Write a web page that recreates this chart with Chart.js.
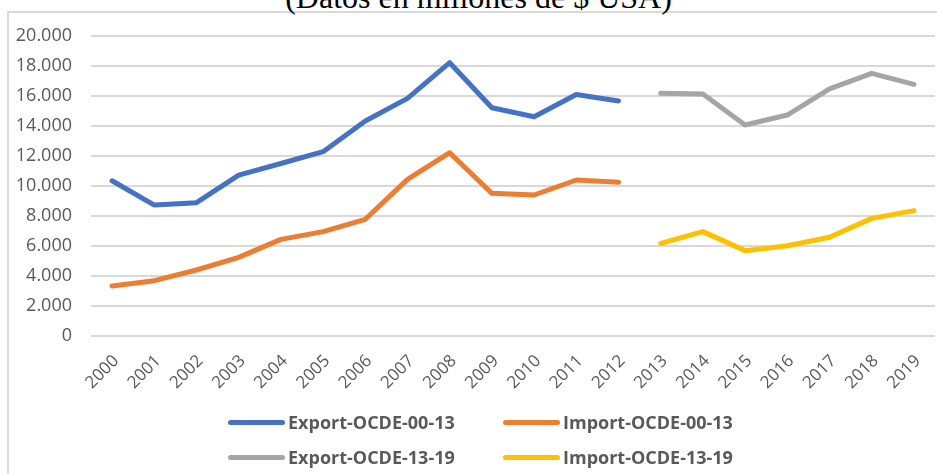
<!DOCTYPE html>
<html lang="es">
<head>
<meta charset="utf-8">
<script src="https://cdn.jsdelivr.net/npm/chart.js@4/dist/chart.umd.min.js"></script>
<style>
  html, body { margin: 0; padding: 0; background: #fff; overflow: hidden; }
  #wrap { position: relative; width: 937px; height: 474px; overflow: hidden; }
  /* marco gris del área del gráfico (sólo se ven los bordes izquierdo y superior) */
  #marco { position: absolute; left: 7px; top: 11px; width: 960px; height: 500px;
           border-left: 2px solid #d9d9d9; border-top: 2px solid #d9d9d9; }
  #titulo { position: absolute; left: 0; top: -19px; width: 957px; text-align: center;
            font: 32px/32px 'Liberation Serif', 'Times New Roman', serif; color: #000; white-space: nowrap; }
  #grafico { position: absolute; left: 0; top: 0; }
  .item { position: absolute; display: flex; align-items: center; height: 24px; margin-top: -12px;
          font: bold 18px 'Open Sans', sans-serif; color: #595959; white-space: nowrap; }
  .item .linea { display: inline-block; width: 57px; height: 5px; border-radius: 3px; margin-right: 3px; }
</style>
</head>
<body>
<div id="wrap">
  <div id="marco"></div>
  <div id="titulo">(Datos en millones de $ USA)</div>
  <canvas id="grafico" width="937" height="474"></canvas>
  <div id="leyenda"></div>
</div>
<script>
/* Años del eje x */
const anios = ['2000', '2001', '2002', '2003', '2004', '2005', '2006', '2007', '2008', '2009',
  '2010', '2011', '2012', '2013', '2014', '2015', '2016', '2017', '2018', '2019'];

/* Series (millones de $ USA), null = sin dato en ese tramo */
const exportOcde0013 = [10350, 8730, 8890, 10730, 11500, 12290, 14330, 15840, 18220, 15220,
  14620, 16100, 15670, null, null, null, null, null, null, null];
const importOcde0013 = [3330, 3690, 4400, 5240, 6440, 6960, 7780, 10440, 12220, 9510,
  9400, 10400, 10250, null, null, null, null, null, null, null];
const exportOcde1319 = [null, null, null, null, null, null, null, null, null, null,
  null, null, null, 16180, 16130, 14070, 14730, 16470, 17510, 16780];
const importOcde1319 = [null, null, null, null, null, null, null, null, null, null,
  null, null, null, 6180, 6960, 5690, 6020, 6580, 7840, 8360];

/* Nombres y colores de cada serie */
const nombres = ['Export-OCDE-00-13', 'Import-OCDE-00-13', 'Export-OCDE-13-19', 'Import-OCDE-13-19'];
const colores = ['#4472C4', '#ED7D31', '#A5A5A5', '#FFC000'];

/* Marcas del eje y */
const yMin = 0;
const yMax = 20000;
const yPaso = 2000;

const series = [exportOcde0013, importOcde0013, exportOcde1319, importOcde1319];
const datasets = series.map((data, i) => ({
  label: nombres[i],
  data,
  borderColor: colores[i],
  backgroundColor: colores[i]
}));

/* Formato con punto de miles: 20000 -> 20.000 */
function miles(v) {
  return String(v).replace(/\B(?=(\d{3})+(?!\d))/g, '.');
}

/* Leyenda en HTML (2 x 2 como en el original) */
const posLeyenda = [[228, 422], [503, 422], [228, 457], [503, 457]];
const leyendaHtml = {
  id: 'leyendaHtml',
  afterUpdate(chart) {
    const cont = document.getElementById('leyenda');
    cont.innerHTML = '';
    chart.data.datasets.forEach((ds, i) => {
      const item = document.createElement('div');
      item.className = 'item';
      item.style.left = posLeyenda[i][0] + 'px';
      item.style.top = posLeyenda[i][1] + 'px';
      const linea = document.createElement('span');
      linea.className = 'linea';
      linea.style.background = ds.borderColor;
      item.appendChild(linea);
      item.appendChild(document.createTextNode(ds.label));
      cont.appendChild(item);
    });
  }
};

const fuenteEjes = 'Open Sans, sans-serif';

new Chart(document.getElementById('grafico'), {
  type: 'line',
  data: { labels: anios, datasets },
  plugins: [leyendaHtml],
  options: {
    responsive: false,
    animation: false,
    layout: { padding: { top: 36, right: 2, bottom: 78, left: 0 } },
    elements: {
      point: { radius: 0, hoverRadius: 0 },
      line: { tension: 0, borderWidth: 5, borderCapStyle: 'round', borderJoinStyle: 'round' }
    },
    plugins: {
      legend: { display: false },
      title: { display: false },
      tooltip: { enabled: false }
    },
    scales: {
      x: {
        offset: true,
        grid: { display: false },
        border: { display: false },
        ticks: {
          color: '#595959',
          font: { family: fuenteEjes, size: 17 },
          minRotation: 45,
          maxRotation: 45,
          autoSkip: false,
          padding: 7,
          labelOffset: 4
        },
        afterFit: (scale) => { scale.height = 60; }
      },
      y: {
        min: yMin,
        max: yMax,
        grid: { color: '#d9d9d9', lineWidth: 2, drawTicks: false },
        border: { display: false },
        ticks: {
          stepSize: yPaso,
          color: '#595959',
          font: { family: fuenteEjes, size: 18 },
          padding: 19,
          callback: (v) => miles(v)
        },
        afterFit: (scale) => { scale.width = 91; }
      }
    }
  }
});
</script>
</body>
</html>
